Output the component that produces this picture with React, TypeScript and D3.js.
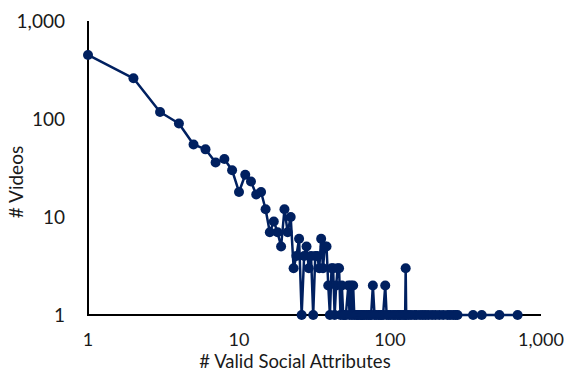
import React from "react";
import * as d3 from "d3";

// Distribution: number of valid social attributes per video (x) vs. number of videos (y)
const attrCounts: number[] = [
  1, 2, 3, 4, 5, 6, 7, 8, 9, 10,
  11, 12, 13, 14, 15, 16, 17, 18, 19, 20,
  21, 22, 23, 24, 25, 26, 27, 28, 29, 30,
  31, 32, 33, 34, 35, 36, 37, 38, 39, 40,
  41, 42, 43, 44, 45, 46, 47, 48, 49, 50,
  51, 53, 54, 55, 56, 57, 58, 60, 61, 62,
  64, 65, 66, 68, 70, 72, 74, 75, 77, 79,
  81, 84, 86, 88, 90, 93, 95, 98, 101, 105,
  108, 112, 115, 118, 122, 126, 127, 128, 133, 138,
  145, 150, 158, 165, 172, 180, 190, 200, 212, 225,
  240, 250, 262, 272, 280, 355, 405, 530, 700,
];

const videoCounts: number[] = [
  450, 260, 118, 90, 55, 49, 36, 39, 30, 18,
  27, 23, 17, 18, 12, 7, 9, 7, 5, 12,
  7, 10, 3, 4, 6, 1, 4, 5, 3, 4,
  1, 4, 4, 3, 6, 3, 5, 5, 2, 1,
  3, 3, 1, 2, 3, 3, 1, 2, 1, 1,
  1, 2, 1, 2, 1, 2, 1, 1, 1, 1,
  1, 1, 1, 1, 1, 1, 1, 1, 2, 1,
  1, 1, 1, 1, 1, 2, 1, 1, 1, 1,
  1, 1, 1, 1, 1, 1, 3, 1, 1, 1,
  1, 1, 1, 1, 1, 1, 1, 1, 1, 1,
  1, 1, 1, 1, 1, 1, 1, 1, 1,
];

const tickValues: number[] = [1, 10, 100, 1000];

const xTitle = "# Valid Social Attributes";
const yTitle = "# Videos";

const W = 564;
const H = 371;
const LEFT = 88;
const RIGHT = 541;
const TOP = 21;
const BOTTOM = 315;

const NAVY = "#002060";
const FONT = "Lato, 'Open Sans', sans-serif";

export default function App() {
  const x = d3.scaleLog().domain([1, 1000]).range([LEFT, RIGHT]);
  const y = d3.scaleLog().domain([1, 1000]).range([BOTTOM, TOP]);
  const fmt = d3.format(",");

  const points = attrCounts.map((a, i) => ({ a, v: videoCounts[i] }));
  const line = d3
    .line<{ a: number; v: number }>()
    .x((d) => x(d.a))
    .y((d) => y(d.v));

  return (
    <svg
      width={W}
      height={H}
      style={{ position: "absolute", left: 0, top: 0, background: "#fff" }}
      fontFamily={FONT}
    >
      {/* axes */}
      <line x1={LEFT} x2={LEFT} y1={TOP} y2={BOTTOM + 1} stroke="#000" strokeWidth={2} />
      <line x1={LEFT - 1} x2={RIGHT} y1={BOTTOM} y2={BOTTOM} stroke="#000" strokeWidth={2} />

      {/* y tick labels */}
      {tickValues.map((t) => (
        <text
          key={`y${t}`}
          x={65}
          y={y(t)}
          dy="0.35em"
          textAnchor="end"
          fontSize={19}
          fill="#1a1a1a"
        >
          {fmt(t)}
        </text>
      ))}

      {/* x tick labels */}
      {tickValues.map((t) => (
        <text
          key={`x${t}`}
          x={x(t)}
          y={346}
          textAnchor="middle"
          fontSize={18}
          fill="#1a1a1a"
        >
          {fmt(t)}
        </text>
      ))}

      {/* axis titles */}
      <text x={295} y={368} textAnchor="middle" fontSize={18.5} fill="#1a1a1a">
        {xTitle}
      </text>
      <text
        transform={`translate(23,182) rotate(-90)`}
        textAnchor="middle"
        fontSize={19}
        fill="#1a1a1a"
      >
        {yTitle}
      </text>

      {/* series */}
      <path d={line(points) ?? ""} fill="none" stroke={NAVY} strokeWidth={2.5} strokeLinejoin="round" />
      {points.map((p, i) => (
        <circle key={i} cx={x(p.a)} cy={y(p.v)} r={5} fill={NAVY} />
      ))}
    </svg>
  );
}
